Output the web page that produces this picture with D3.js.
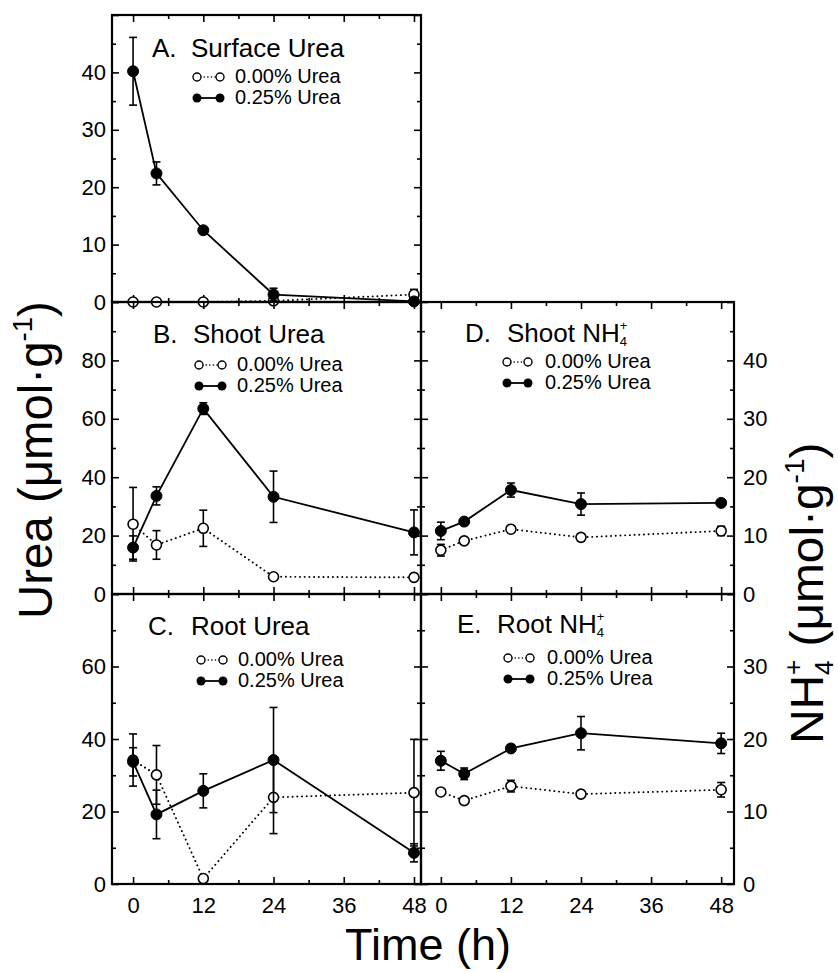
<!DOCTYPE html>
<html><head><meta charset="utf-8">
<script src="https://cdn.jsdelivr.net/npm/d3@7"></script>
<style>
body{margin:0;background:#fff}
svg{display:block}
text{font-family:"Liberation Sans",Arial,Helvetica,sans-serif;fill:#000}
</style>
</head><body>
<svg id="chart" width="838" height="973"></svg>
<script>
// ---------- data ----------
const times = [0, 4, 12, 24, 48];
const xTickLabels = [0, 12, 24, 36, 48];
const seriesLabels = ["0.00% Urea", "0.25% Urea"];

// A. Surface urea
const surfaceCtrl = [0, 0, 0, 0.2, 1.3];
const surfaceCtrlErr = [0, 0, 0, 0, 0.9];
const surfaceUrea = [40.2, 22.4, 12.5, 1.3, 0.1];
const surfaceUreaErr = [5.9, 2.0, 0.5, 1.1, 0.3];
// B. Shoot urea
const shootUreaCtrl = [23.9, 16.8, 22.5, 5.9, 5.7];
const shootUreaCtrlErr = [12.6, 4.9, 6.2, 0, 0];
const shootUrea = [15.9, 33.6, 63.5, 33.3, 21.1];
const shootUreaErr = [4.0, 3.1, 2.0, 8.8, 7.7];
// C. Root urea
const rootUreaCtrl = [34.2, 30.1, 1.5, 23.9, 25.2];
const rootUreaCtrlErr = [7.2, 8.1, 0, 10.0, 14.7];
const rootUrea = [33.7, 19.2, 25.7, 34.2, 8.6];
const rootUreaErr = [3.9, 6.7, 4.7, 14.5, 2.5];
// D. Shoot NH4+
const shootNH4Ctrl = [7.5, 9.1, 11.1, 9.7, 10.8];
const shootNH4CtrlErr = [1.0, 0.3, 0.5, 0.3, 0.8];
const shootNH4 = [10.8, 12.4, 17.8, 15.4, 15.6];
const shootNH4Err = [1.5, 0.5, 1.2, 1.9, 0.3];
// E. Root NH4+
const rootNH4Ctrl = [12.7, 11.5, 13.5, 12.4, 13.0];
const rootNH4CtrlErr = [0.4, 0.3, 0.8, 0.4, 1.0];
const rootNH4 = [17.0, 15.2, 18.7, 20.8, 19.4];
const rootNH4Err = [1.3, 0.8, 0.5, 2.3, 1.4];

// y tick labels per panel
const yLabelsA = [0, 10, 20, 30, 40];
const yLabelsB = [0, 20, 40, 60, 80];
const yLabelsC = [0, 20, 40, 60];
const yLabelsD = [0, 10, 20, 30, 40];
const yLabelsE = [0, 10, 20, 30];

// ---------- layout ----------
const svg = d3.select("#chart");
const colX = [[112, 421], [421, 734]];
const rowY = [[15, 302], [302, 594], [594, 884]];
const xDomains = [[-3.6, 49.2], [-3.4, 50.2]];

const panels = [
  {letter:"A.", name:["Surface Urea"], col:0, row:0, domain:[0,50], major:10, minor:5, labels:yLabelsA, side:"left", showX:false,
   ctrl:surfaceCtrl, ctrlErr:surfaceCtrlErr, trt:surfaceUrea, trtErr:surfaceUreaErr,
   title:[152,191,57], leg:[197,220,235,77,98]},
  {letter:"B.", name:["Shoot Urea"], col:0, row:1, domain:[0,100], major:20, minor:10, labels:yLabelsB, side:"left", showX:false,
   ctrl:shootUreaCtrl, ctrlErr:shootUreaCtrlErr, trt:shootUrea, trtErr:shootUreaErr,
   title:[153,193,343], leg:[199,222,237,365,386]},
  {letter:"C.", name:["Root Urea"], col:0, row:2, domain:[0,80], major:20, minor:10, labels:yLabelsC, side:"left", showX:true,
   ctrl:rootUreaCtrl, ctrlErr:rootUreaCtrlErr, trt:rootUrea, trtErr:rootUreaErr,
   title:[148,191,635], leg:[201,223,238,660,681]},
  {letter:"D.", name:["Shoot NH","4"], col:1, row:1, domain:[0,50], major:10, minor:5, labels:yLabelsD, side:"right", showX:false,
   ctrl:shootNH4Ctrl, ctrlErr:shootNH4CtrlErr, trt:shootNH4, trtErr:shootNH4Err,
   title:[465,507,342], leg:[507,528,545,362,383]},
  {letter:"E.", name:["Root NH","4"], col:1, row:2, domain:[0,40], major:10, minor:5, labels:yLabelsE, side:"right", showX:true,
   ctrl:rootNH4Ctrl, ctrlErr:rootNH4CtrlErr, trt:rootNH4, trtErr:rootNH4Err,
   title:[457,497,633], leg:[508,530,547,658,679]}
];

function styleAxis(g, fs) {
  g.select(".domain").remove();
  g.selectAll(".tick line").attr("stroke", "#000").attr("stroke-width", 1.6);
  g.selectAll("text").attr("font-family", "Liberation Sans, Arial, sans-serif").attr("font-size", fs).attr("fill", "#000");
  g.attr("font-family", null);
}

function drawPanel(p) {
  const [x0, x1] = colX[p.col];
  const [y0, y1] = rowY[p.row];
  const x = d3.scaleLinear().domain(xDomains[p.col]).range([x0, x1]);
  const y = d3.scaleLinear().domain(p.domain).range([y1, y0]);
  const g = svg.append("g");

  const xMajor = d3.range(0, 49, 12);
  const xMinor = d3.range(6, 49, 12);
  const yMajor = d3.range(p.domain[0], p.domain[1] + 0.001, p.major);
  const yMinor = d3.range(p.domain[0], p.domain[1] + 0.001, p.minor).filter(v => yMajor.indexOf(v) < 0);
  const labelSet = new Set(p.labels);
  const fmtY = d => labelSet.has(d) ? String(d) : "";
  const fmtX = d => xTickLabels.indexOf(d) >= 0 ? String(d) : "";

  // bottom
  styleAxis(g.append("g").attr("transform", `translate(0,${y1})`)
    .call(d3.axisBottom(x).tickValues(xMajor).tickSize(-7).tickPadding(13).tickFormat(p.showX ? fmtX : () => "")), 22);
  styleAxis(g.append("g").attr("transform", `translate(0,${y1})`)
    .call(d3.axisBottom(x).tickValues(xMinor).tickSize(-4).tickFormat(() => "")), 22);
  // top
  styleAxis(g.append("g").attr("transform", `translate(0,${y0})`)
    .call(d3.axisTop(x).tickValues(xMajor).tickSize(-7).tickFormat(() => "")), 22);
  styleAxis(g.append("g").attr("transform", `translate(0,${y0})`)
    .call(d3.axisTop(x).tickValues(xMinor).tickSize(-4).tickFormat(() => "")), 22);
  // left
  styleAxis(g.append("g").attr("transform", `translate(${x0},0)`)
    .call(d3.axisLeft(y).tickValues(yMajor).tickSize(-7).tickPadding(6).tickFormat(p.side === "left" ? fmtY : () => "")), 22);
  styleAxis(g.append("g").attr("transform", `translate(${x0},0)`)
    .call(d3.axisLeft(y).tickValues(yMinor).tickSize(-4).tickFormat(() => "")), 22);
  // right
  styleAxis(g.append("g").attr("transform", `translate(${x1},0)`)
    .call(d3.axisRight(y).tickValues(yMajor).tickSize(-7).tickPadding(9).tickFormat(p.side === "right" ? fmtY : () => "")), 22);
  styleAxis(g.append("g").attr("transform", `translate(${x1},0)`)
    .call(d3.axisRight(y).tickValues(yMinor).tickSize(-4).tickFormat(() => "")), 22);

  // box
  g.append("rect").attr("x", x0).attr("y", y0).attr("width", x1 - x0).attr("height", y1 - y0)
    .attr("fill", "none").attr("stroke", "#000").attr("stroke-width", 2.2);

  const line = d3.line().x((d, i) => x(times[i])).y(d => y(d));

  function series(vals, errs, filled) {
    const s = g.append("g");
    s.append("path").datum(vals).attr("d", line).attr("fill", "none").attr("stroke", "#000")
      .attr("stroke-width", filled ? 1.8 : 1.9)
      .attr("stroke-dasharray", filled ? null : "0.1,4.6").attr("stroke-linecap", filled ? "butt" : "round");
    vals.forEach((v, i) => {
      const e = errs[i];
      if (e > 0) {
        const cx = x(times[i]);
        s.append("line").attr("x1", cx).attr("x2", cx).attr("y1", y(v - e)).attr("y2", y(v + e))
          .attr("stroke", "#000").attr("stroke-width", 1.6);
        [v - e, v + e].forEach(w => s.append("line").attr("x1", cx - 4).attr("x2", cx + 4)
          .attr("y1", y(w)).attr("y2", y(w)).attr("stroke", "#000").attr("stroke-width", 1.6));
      }
    });
    s.selectAll("circle").data(vals).join("circle")
      .attr("cx", (d, i) => x(times[i])).attr("cy", d => y(d))
      .attr("r", filled ? 5.5 : 5)
      .attr("fill", filled ? "#000" : "#fff").attr("stroke", "#000").attr("stroke-width", filled ? 1 : 1.6);
  }
  series(p.ctrl, p.ctrlErr, false);
  series(p.trt, p.trtErr, true);

  // title
  const [tx1, tx2, ty] = p.title;
  g.append("text").attr("x", tx1).attr("y", ty).attr("font-size", 26).text(p.letter);
  const tt = g.append("text").attr("x", tx2).attr("y", ty).attr("font-size", 26);
  tt.append("tspan").text(p.name[0]);
  if (p.name[1]) {
    tt.append("tspan").attr("font-size", 13).attr("dy", 4).text(p.name[1]);
    tt.append("tspan").attr("font-size", 13).attr("dx", -7.2).attr("dy", -16).text("+");
  }

  // legend
  const [lx1, lx2, ltx, ly1, ly2] = p.leg;
  g.append("line").attr("x1", lx1).attr("x2", lx2).attr("y1", ly1).attr("y2", ly1)
    .attr("stroke", "#000").attr("stroke-width", 1.6).attr("stroke-dasharray", "0.1,3.5").attr("stroke-linecap", "round");
  [lx1, lx2].forEach(cx => g.append("circle").attr("cx", cx).attr("cy", ly1).attr("r", 4)
    .attr("fill", "#fff").attr("stroke", "#000").attr("stroke-width", 1.4));
  g.append("line").attr("x1", lx1).attr("x2", lx2).attr("y1", ly2).attr("y2", ly2)
    .attr("stroke", "#000").attr("stroke-width", 1.8);
  [lx1, lx2].forEach(cx => g.append("circle").attr("cx", cx).attr("cy", ly2).attr("r", 4.5).attr("fill", "#000"));
  g.append("text").attr("x", ltx).attr("y", ly1 + 6).attr("font-size", 20).text(seriesLabels[0]);
  g.append("text").attr("x", ltx).attr("y", ly2 + 6).attr("font-size", 20).text(seriesLabels[1]);
}

panels.forEach(drawPanel);

// ---------- axis titles ----------
function fitRotated(t, bx, by, target) {
  const len = t.node().getComputedTextLength();
  const s = target / len;
  t.attr("transform", `translate(${bx},${by}) rotate(-90) scale(${s},1)`);
}

const yl = svg.append("text").attr("x", 0).attr("y", 0).attr("font-size", 48);
yl.append("tspan").text("Urea (\u03bcmol\u00b7g");
yl.append("tspan").attr("font-size", 28).attr("dy", -20).text("-1");
yl.append("tspan").attr("dy", 20).text(")");
fitRotated(yl, 52, 619, 318);

const yr = svg.append("text").attr("x", 0).attr("y", 0).attr("font-size", 46);
yr.append("tspan").text("NH");
yr.append("tspan").attr("font-size", 25).attr("dy", 10).text("4");
yr.append("tspan").attr("font-size", 25).attr("dx", -13.9).attr("dy", -31).text("+");
yr.append("tspan").attr("dy", 21).text(" (\u03bcmol\u00b7g");
yr.append("tspan").attr("font-size", 27).attr("dy", -19).text("-1");
yr.append("tspan").attr("dy", 19).text(")");
fitRotated(yr, 823, 744, 316);

svg.append("text").attr("x", 428).attr("y", 960).attr("text-anchor", "middle").attr("font-size", 45).text("Time (h)");
</script>
</body></html>
